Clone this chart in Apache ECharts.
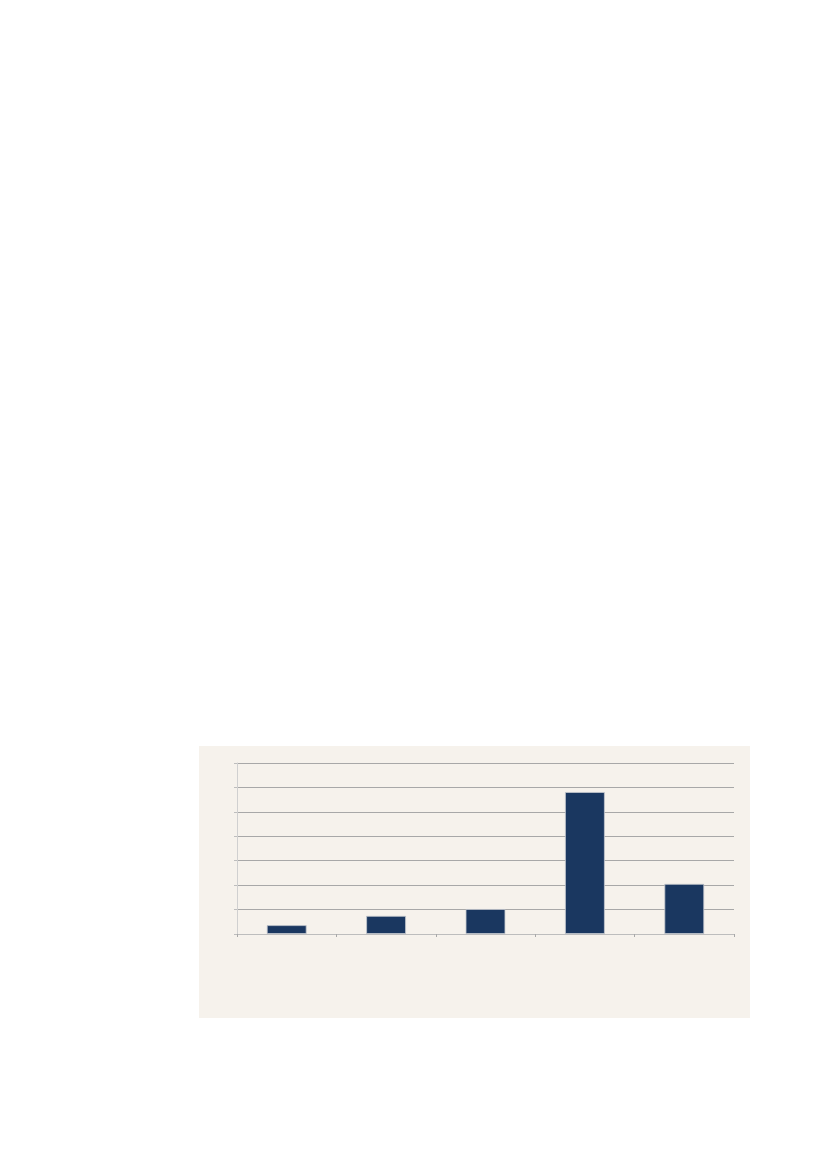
<!DOCTYPE html>
<html>
<head>
<meta charset="utf-8">
<script src="https://cdn.jsdelivr.net/npm/echarts@6/dist/echarts.min.js"></script>
<style>
html,body{margin:0;padding:0;background:#fff;}
#c{width:827px;height:1169px;}
</style>
</head>
<body>
<div id="c"></div>
<script>
var categories = ['A', 'B', 'C', 'D', 'E'];
var values = [0.36, 0.74, 1.02, 5.81, 2.05];
var yTicks = [0, 1, 2, 3, 4, 5, 6, 7];

var chart = echarts.init(document.getElementById('c'), null, {renderer: 'canvas'});
chart.setOption({
  backgroundColor: '#ffffff',
  animation: false,
  graphic: [{
    type: 'rect', z: -10, silent: true,
    shape: {x: 199, y: 746, width: 551, height: 272},
    style: {fill: '#F6F2EC'}
  }],
  grid: {left: 237, right: 93, top: 763, bottom: 235, containLabel: false},
  xAxis: {
    type: 'category',
    data: categories,
    axisLine: {show: true, lineStyle: {color: '#BDBDBD', width: 1}},
    axisTick: {show: true, alignWithLabel: false, length: 3, lineStyle: {color: '#A8A8A8'}},
    axisLabel: {show: false}
  },
  yAxis: {
    type: 'value',
    min: yTicks[0], max: yTicks[yTicks.length - 1], interval: 1,
    axisLine: {show: true, lineStyle: {color: '#D0D0D0', width: 1}},
    axisTick: {show: true, length: 3, lineStyle: {color: '#BDBDBD'}},
    axisLabel: {show: false},
    splitLine: {show: true, lineStyle: {color: '#A8A8A8', width: 1}}
  },
  series: [{
    type: 'bar',
    data: values,
    barWidth: '40%',
    itemStyle: {color: '#1A3760', borderColor: '#C4C8CE', borderWidth: 0.8}
  }]
});
</script>
</body>
</html>
